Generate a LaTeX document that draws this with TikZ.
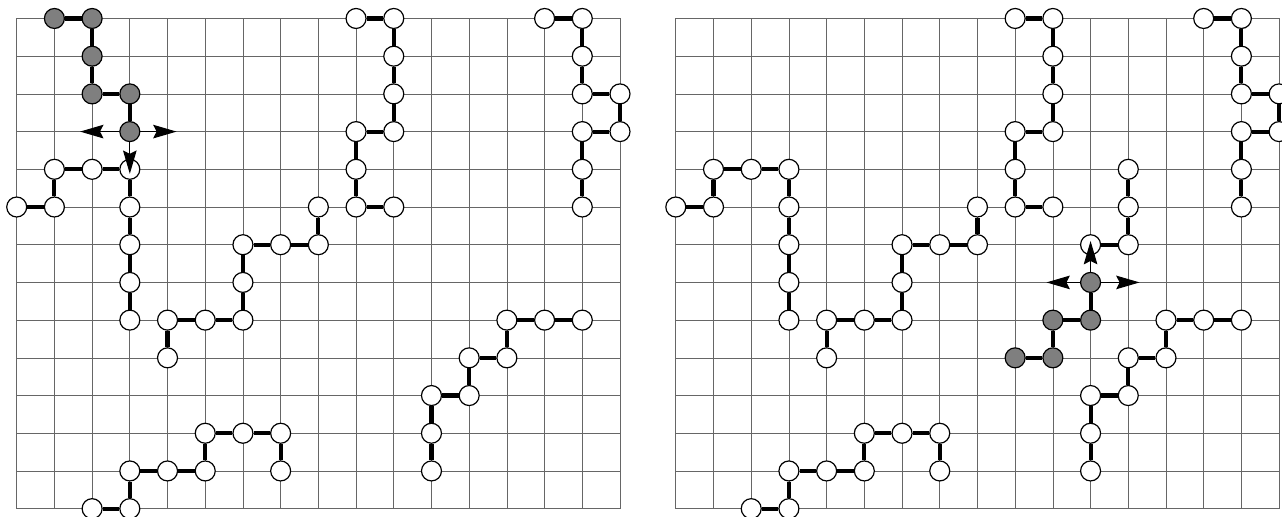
\documentclass[tikz,border=0pt]{standalone}
\usepackage{tikz}
\usetikzlibrary{arrows.meta,positioning}
\definecolor{walkergray}{HTML}{7F7F7F}

% one chain of sites: #1 panel prefix, #2 site style, #3 list of col/row
\newcommand{\polymer}[3]{%
  \foreach \x/\y [remember=\x as \lastx (initially -1), remember=\y as \lasty (initially -1)] in {#3} {
    \node[#2] (#1-\x-\y) at (\x,-\y) {};
    \ifnum\lastx>-1 \draw[bond] (#1-\lastx-\lasty) -- (#1-\x-\y); \fi
  }%
}

\begin{document}
\begin{tikzpicture}[
  lattice/.style={line width=0.5pt, black!60},
  site/.style   ={circle, draw=black, line width=0.9pt, fill=white, minimum size=5.3mm, inner sep=0pt},
  walker/.style ={site, fill=walkergray},
  bond/.style   ={line width=3.1pt, black},
  arr/.style    ={-{Stealth[length=6.2mm, width=3.6mm, inset=0.9mm]}, line width=0.8pt, black},
]
  \useasboundingbox (-0.443,0.49) rectangle (33.557,-13.197);

  % left panel
  \draw[lattice] (0,0) grid (16,-13);
  \polymer{L}{site}{0/5,1/5,1/4,2/4,3/4,3/5,3/6,3/7,3/8}
  \polymer{L}{site}{4/9,4/8,5/8,6/8,6/7,6/6,7/6,8/6,8/5}
  \polymer{L}{site}{2/13,3/13,3/12,4/12,5/12,5/11,6/11,7/11,7/12}
  \polymer{L}{site}{9/0,10/0,10/1,10/2,10/3,9/3,9/4,9/5,10/5}
  \polymer{L}{site}{14/0,15/0,15/1,15/2,16/2,16/3,15/3,15/4,15/5}
  \polymer{L}{site}{11/12,11/11,11/10,12/10,12/9,13/9,13/8,14/8,15/8}
  \polymer{L}{walker}{1/0,2/0,2/1,2/2,3/2,3/3}

  \coordinate (L-w) at (1.68,-3);
  \coordinate (L-e) at (4.24,-3);
  \coordinate (L-s) at (3,-4.12);
  \draw[arr] (L-3-3) -- (L-w);
  \draw[arr] (L-3-3) -- (L-e);
  \draw[arr] (L-3-3) -- (L-s);

  % right panel
  \begin{scope}[xshift=17.48cm]
    \draw[lattice] (0,0) grid (16,-13);
    \polymer{R}{site}{0/5,1/5,1/4,2/4,3/4,3/5,3/6,3/7,3/8}
    \polymer{R}{site}{4/9,4/8,5/8,6/8,6/7,6/6,7/6,8/6,8/5}
    \polymer{R}{site}{2/13,3/13,3/12,4/12,5/12,5/11,6/11,7/11,7/12}
    \polymer{R}{site}{9/0,10/0,10/1,10/2,10/3,9/3,9/4,9/5,10/5}
    \polymer{R}{site}{14/0,15/0,15/1,15/2,16/2,16/3,15/3,15/4,15/5}
    \polymer{R}{site}{11/12,11/11,11/10,12/10,12/9,13/9,13/8,14/8,15/8}
    \polymer{R}{site}{11/6,12/6,12/5,12/4}
    \polymer{R}{walker}{9/9,10/9,10/8,11/8,11/7}

    \coordinate (R-w) at (9.83,-7);
    \coordinate (R-e) at (12.3,-7);
    \coordinate (R-n) at (11,-5.9);
    \draw[arr] (R-11-7) -- (R-w);
    \draw[arr] (R-11-7) -- (R-e);
    \draw[arr] (R-11-7) -- (R-n);
  \end{scope}
\end{tikzpicture}
\end{document}
